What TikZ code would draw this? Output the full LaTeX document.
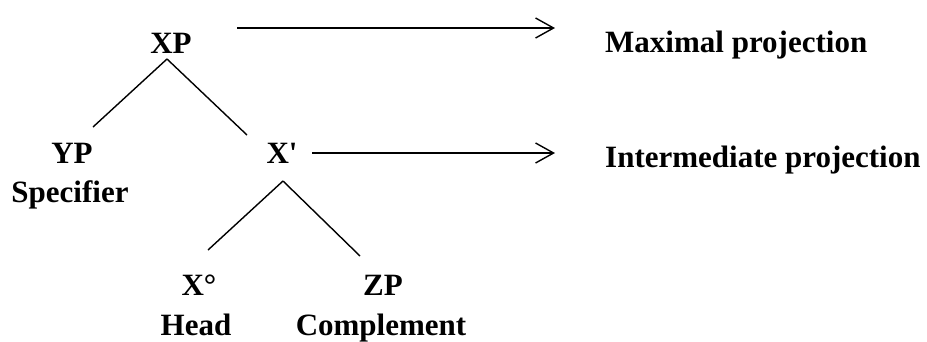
\documentclass[tikz,border=0pt]{standalone}
\usepackage{fontspec}
\setmainfont{Liberation Serif}
\newfontfamily\plainquote{Liberation Serif}[Ligatures=ResetAll]
\usetikzlibrary{arrows.meta}
\begin{document}
\begin{tikzpicture}[x=1pt,y=-1pt,
  lbl/.style={font=\fontsize{31}{31}\selectfont\bfseries, inner sep=0pt, anchor=base},
  side/.style={lbl, anchor=base west},
  branch/.style={line width=1.4pt},
  proj/.style={line width=1.4pt, -{Straight Barb[length=18pt,width=20pt,line width=1.4pt]}}]
\useasboundingbox (0,0) rectangle (927,341);
% tree nodes
\node[lbl] (xp)   at (171,53)  {XP};
\node[lbl] (yp)   at (72,163)  {YP};
\node[lbl] (spec) at (70,202)  {Specifier};
\node[lbl] (xbar) at (282,163) {X{\plainquote\bfseries\char"27}};
\node[lbl] (x0)   at (199,295) {X°};
\node[lbl] (zp)   at (383,295) {ZP};
\node[lbl] (head) at (196,335) {Head};
\node[lbl] (comp) at (381,335) {Complement};
% level labels
\node[side] (max)   at (605,52)  {Maximal projection};
\node[side] (inter) at (605,167) {Intermediate projection};
% branches
\draw[branch] ([shift={(-4,6)}]xp.base) -- ([shift={(21,-36)}]yp.base);
\draw[branch] ([shift={(-4,6)}]xp.base) -- ([shift={(-35,-28)}]xbar.base);
\draw[branch] ([shift={(1,18)}]xbar.base) -- ([shift={(9,-45)}]x0.base);
\draw[branch] ([shift={(1,18)}]xbar.base) -- ([shift={(-23,-39)}]zp.base);
% arrows to the level labels
\draw[proj] ([shift={(66,-25)}]xp.base) -- ([shift={(-50,-24)}]max.base west);
\draw[proj] ([shift={(30,-10)}]xbar.base) -- ([shift={(-50,-14)}]inter.base west);
\end{tikzpicture}
\end{document}
